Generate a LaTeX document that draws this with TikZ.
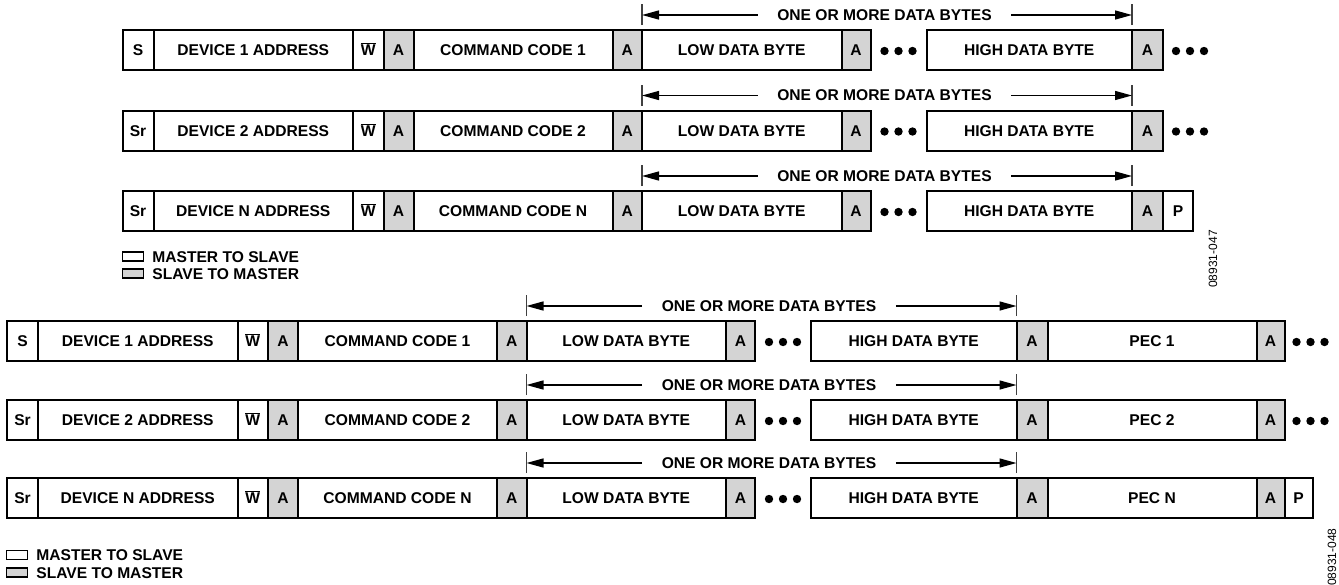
\documentclass[tikz,border=0pt]{standalone}
\usepackage{fontspec}
\setmainfont{Liberation Sans}
\usepackage{tikz}
\usetikzlibrary{positioning,arrows.meta,calc}
\usepackage{xcolor}
\definecolor{ackgray}{HTML}{D4D4D4}
\newcommand{\cellfont}{\fontsize{15.6}{18}\selectfont\bfseries}
\newcommand{\codefont}{\fontsize{12}{14}\selectfont}

\begin{document}
\begin{tikzpicture}[
    x=1pt, y=-1pt,
    cell/.style={draw, line width=2pt, minimum height=40pt, inner sep=0pt, outer sep=0pt,
        text height=11.2pt, text depth=0pt, font=\cellfont},
    ackcell/.style={cell, fill=ackgray},
    bytes/.style={font=\cellfont, inner xsep=19.5pt, inner ysep=0pt},
    dataarrow/.style={line width=1.4pt, -{Triangle[length=17pt, width=9pt]}},
    tickline/.style={line width=1.4pt, draw=black!75},
    legendbox/.style={draw, line width=1.3pt, minimum width=21pt, minimum height=9pt, inner sep=0pt},
    legendtext/.style={font=\cellfont, inner sep=0pt, text height=11.2pt, text depth=0pt},
    codelabel/.style={font=\codefont, rotate=90, inner sep=0pt}
]
    \useasboundingbox (0,0) rectangle (1339,584);

    % Upper figure: frames without PEC
    \foreach \r/\yc/\sbit/\n in {1/50/S/1, 2/130.5/Sr/2, 3/211/Sr/N} {
        \node[cell, minimum width=31pt, anchor=west] (s\r) at (122.5,\yc) {\sbit};
        \node[cell, minimum width=199.5pt, right=0pt of s\r] (dev\r) {DEVICE \n\ ADDRESS};
        \node[cell, minimum width=30.5pt, right=0pt of dev\r] (w\r) {$\overline{\mbox{W}}$};
        \node[ackcell, minimum width=30pt, right=0pt of w\r] (aa\r) {A};
        \node[cell, minimum width=199pt, right=0pt of aa\r] (cmd\r) {COMMAND CODE \n};
        \node[ackcell, minimum width=29.5pt, right=0pt of cmd\r] (ac\r) {A};
        \node[cell, minimum width=199.5pt, right=0pt of ac\r] (low\r) {LOW DATA BYTE};
        \node[ackcell, minimum width=29pt, right=0pt of low\r] (al\r) {A};
        \node[cell, minimum width=205.5pt, right=56pt of al\r] (high\r) {HIGH DATA BYTE};
        \node[ackcell, minimum width=31pt, right=0pt of high\r] (ah\r) {A};

        % Dots between low and high bytes
        \foreach \dx in {14,28,42}
            \fill ([xshift=\dx pt, yshift=-1pt]al\r.east) circle (4.2pt);

        % Data bytes span
        \coordinate (mid\r) at ($(low\r.north west)!0.5!(high\r.north east)$);
        \node[bytes] (ob\r) at ([xshift=-2.5pt, yshift=15pt]mid\r) {ONE OR MORE DATA BYTES};
        \draw[tickline] ([yshift=5pt]low\r.north west) -- ([yshift=26pt]low\r.north west);
        \draw[tickline] ([yshift=5pt]high\r.north east) -- ([yshift=26pt]high\r.north east);
        \draw[dataarrow] (ob\r.west) -- (ob\r.west -| low\r.west);
        \draw[dataarrow] (ob\r.east) -- (ob\r.east -| high\r.east);
    }
    \foreach \r in {1,2}
        \foreach \dx in {13,27,41}
            \fill ([xshift=\dx pt, yshift=-1pt]ah\r.east) circle (4.2pt);
    \node[cell, minimum width=30pt, right=0pt of ah3] (p3) {P};

    % Upper legend
    \node[legendbox] (m2sa) at (133,256.5) {};
    \node[legendtext, right=8pt of m2sa] (m2sat) {MASTER TO SLAVE};
    \node[legendbox, fill=ackgray] (s2ma) at (133,273.5) {};
    \node[legendtext, right=8pt of s2ma] (s2mat) {SLAVE TO MASTER};
    \node[codelabel] (fig47) at (1213,259) {08931-047};

    % Lower figure: frames with PEC
    \foreach \r/\yc/\sbit/\n in {4/341/S/1, 5/420/Sr/2, 6/498/Sr/N} {
        \node[cell, minimum width=31pt, anchor=west] (s\r) at (7,\yc) {\sbit};
        \node[cell, minimum width=199.5pt, right=0pt of s\r] (dev\r) {DEVICE \n\ ADDRESS};
        \node[cell, minimum width=30.5pt, right=0pt of dev\r] (w\r) {$\overline{\mbox{W}}$};
        \node[ackcell, minimum width=30pt, right=0pt of w\r] (aa\r) {A};
        \node[cell, minimum width=199pt, right=0pt of aa\r] (cmd\r) {COMMAND CODE \n};
        \node[ackcell, minimum width=29.5pt, right=0pt of cmd\r] (ac\r) {A};
        \node[cell, minimum width=199.5pt, right=0pt of ac\r] (low\r) {LOW DATA BYTE};
        \node[ackcell, minimum width=29pt, right=0pt of low\r] (al\r) {A};
        \node[cell, minimum width=205.5pt, right=56pt of al\r] (high\r) {HIGH DATA BYTE};
        \node[ackcell, minimum width=31pt, right=0pt of high\r] (ah\r) {A};
        \node[cell, minimum width=209pt, right=0pt of ah\r] (pec\r) {PEC \n};
        \node[ackcell, minimum width=28pt, right=0pt of pec\r] (ap\r) {A};

        % Dots between low and high bytes
        \foreach \dx in {14,28,42}
            \fill ([xshift=\dx pt, yshift=-1pt]al\r.east) circle (4.2pt);

        % Data bytes span
        \coordinate (mid\r) at ($(low\r.north west)!0.5!(high\r.north east)$);
        \node[bytes] (ob\r) at ([xshift=-2.5pt, yshift=15pt]mid\r) {ONE OR MORE DATA BYTES};
        \draw[tickline] ([yshift=5pt]low\r.north west) -- ([yshift=26pt]low\r.north west);
        \draw[tickline] ([yshift=5pt]high\r.north east) -- ([yshift=26pt]high\r.north east);
        \draw[dataarrow] (ob\r.west) -- (ob\r.west -| low\r.west);
        \draw[dataarrow] (ob\r.east) -- (ob\r.east -| high\r.east);
    }
    \foreach \r in {4,5}
        \foreach \dx in {12,26,40}
            \fill ([xshift=\dx pt, yshift=-1pt]ap\r.east) circle (4.2pt);
    \node[cell, minimum width=28pt, right=0pt of ap6] (p6) {P};

    % Lower legend
    \node[legendbox] (m2sb) at (17,555) {};
    \node[legendtext, right=8pt of m2sb] (m2sbt) {MASTER TO SLAVE};
    \node[legendbox, fill=ackgray] (s2mb) at (17,572.5) {};
    \node[legendtext, right=8pt of s2mb] (s2mbt) {SLAVE TO MASTER};
    \node[codelabel] (fig48) at (1332,557) {08931-048};
\end{tikzpicture}
\end{document}
